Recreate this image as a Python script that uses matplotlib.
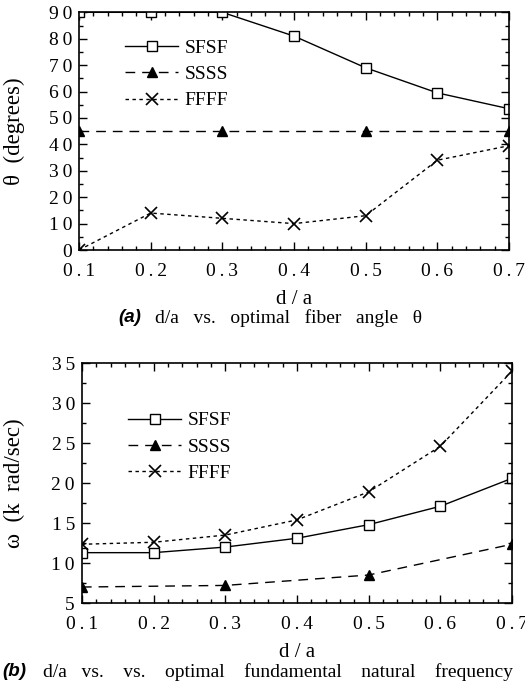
import matplotlib
matplotlib.use("Agg")
import matplotlib.pyplot as plt
from matplotlib.ticker import MultipleLocator

# data
da = [0.1, 0.2, 0.3, 0.4, 0.5, 0.6, 0.7]
da_ssss = [0.1, 0.3, 0.5, 0.7]

theta_sfsf = [90, 90, 90, 81, 69, 59.5, 53.5]
theta_ssss = [45, 45, 45, 45]
theta_ffff = [0, 14, 12, 10, 13, 34, 39.5]

omega_sfsf = [11.3, 11.3, 12.0, 13.1, 14.8, 17.1, 20.6]
omega_ssss = [7.0, 7.2, 8.5, 12.35]
omega_ffff = [12.35, 12.6, 13.5, 15.4, 18.9, 24.6, 34.0]

xticks = [0.1, 0.2, 0.3, 0.4, 0.5, 0.6, 0.7]
theta_ticks = [0, 10, 20, 30, 40, 50, 60, 70, 80, 90]
omega_ticks = [5, 10, 15, 20, 25, 30, 35]

serif = "Liberation Serif"
sans = "Liberation Sans"
plt.rcParams["font.family"] = serif
plt.rcParams["mathtext.fontset"] = "stix"

TS = "\u2009"  # thin space, the scan has letter-spaced tick numbers


def spaced(s):
    return TS.join(s)


def draw(ax, sfsf, ssss, ffff, leg_y, xlab_y):
    ax.plot(da, sfsf, color="k", lw=1.0, marker="s", ms=6.5, mfc="white",
            mec="k", mew=1.0, label="SFSF")
    ax.plot(da_ssss, ssss, color="k", lw=1.0, dashes=(7, 5), marker="^",
            ms=7, mfc="k", mec="k", label="SSSS")
    ax.plot(da, ffff, color="k", lw=1.0, dashes=(2.5, 2.5), marker="x",
            ms=8, mew=1.2, label="FFFF")
    ax.set_xlim(0.1, 0.7)
    ax.set_xticks(xticks)
    ax.set_xticklabels([spaced("%.1f" % v) for v in xticks])
    ax.xaxis.set_minor_locator(MultipleLocator(0.02))
    ax.tick_params(which="both", direction="in", top=True, right=True,
                   labelsize=14, width=1.0)
    ax.tick_params(which="major", length=6)
    ax.tick_params(which="minor", length=3)
    ax.tick_params(axis="x", pad=9)
    ax.tick_params(axis="y", pad=5)
    for s in ax.spines.values():
        s.set_linewidth(1.2)
    ax.set_xlabel("d / a", fontsize=15)
    ax.xaxis.set_label_coords(0.5, xlab_y)
    ax.legend(loc="upper left", bbox_to_anchor=(0.09, leg_y), frameon=False,
              handlelength=2.7, handletextpad=0.35, labelspacing=0.45,
              fontsize=14, borderaxespad=0)


fig = plt.figure(figsize=(5.25, 6.85), dpi=100)

ax1 = fig.add_axes([0.1505, 0.635, 0.819, 0.347])
draw(ax1, theta_sfsf, theta_ssss, theta_ffff, 0.92, -0.17)
ax1.set_ylim(0, 90)
ax1.set_yticks(theta_ticks)
ax1.set_yticklabels([spaced(str(v)) for v in theta_ticks])
ax1.yaxis.set_minor_locator(MultipleLocator(5))
ax1.set_ylabel("θ  (degrees)", fontsize=16.5)
ax1.yaxis.set_label_coords(-0.125, 0.5)

ax2 = fig.add_axes([0.156, 0.1197, 0.819, 0.350])
draw(ax2, omega_sfsf, omega_ssss, omega_ffff, 0.83, -0.165)
ax2.set_ylim(5, 35)
ax2.set_yticks(omega_ticks)
ax2.set_yticklabels([spaced(str(v)) for v in omega_ticks])
ax2.yaxis.set_minor_locator(MultipleLocator(2.5))
ax2.set_ylabel("ω  (k  rad/sec)", fontsize=16.5)
ax2.yaxis.set_label_coords(-0.132, 0.5)

# captions
fig.text(118 / 525, 1 - 318 / 685, "(a)", fontsize=13.5, family=sans,
         weight="bold", style="italic", va="center")
fig.text(155 / 525, 1 - 318 / 685, "d/a   vs.   optimal   fiber   angle   θ",
         fontsize=14, va="center")
fig.text(2 / 525, 1 - 672 / 685, "(b)", fontsize=13.5, family=sans,
         weight="bold", style="italic", va="center")
fig.text(43 / 525, 1 - 672 / 685,
         "d/a   vs.    vs.    optimal    fundamental    natural    frequency",
         fontsize=14, va="center")

fig.savefig("out.png", dpi=100)
